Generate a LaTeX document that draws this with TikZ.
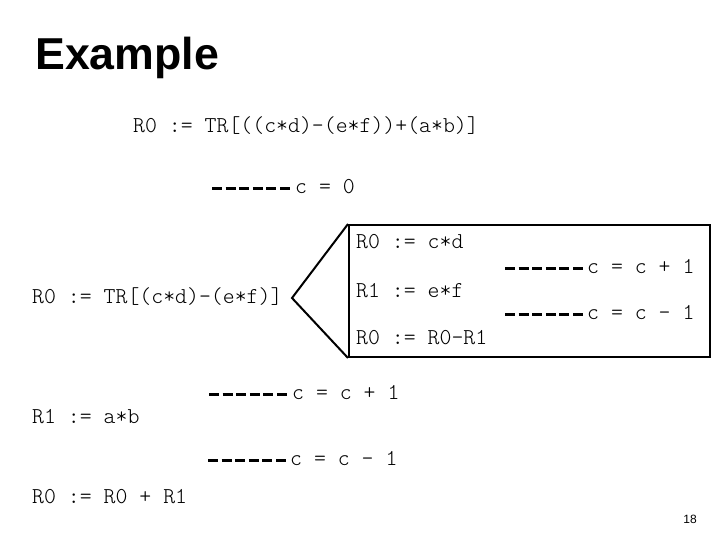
\documentclass[tikz,border=0pt]{standalone}
\usepackage{fontspec}
\newfontfamily\slidefont{Liberation Sans}
\newfontfamily\codefont{Latin Modern Mono Light}
\usetikzlibrary{positioning}

\tikzset{
	code/.style={anchor=base west, inner sep=0pt,
			font=\codefont\fontsize{22.7}{26}\selectfont},
	dashrule/.style={line width=3pt, dash pattern=on 10pt off 3.6pt},
	frame/.style={line width=2pt}
}

\begin{document}
\begin{tikzpicture}[x=1pt, y=-1pt]
	\useasboundingbox (0,0) rectangle (720,540);
	\node[anchor=base west, inner sep=0pt, font=\slidefont\bfseries\fontsize{44.7}{50}\selectfont] (title) at (35,70) {Example};

	\node[code] (whole) at (133,133) {R0 := TR[((c*d)-(e*f))+(a*b)]};
	\coordinate (d0) at (212,189);
	\draw[dashrule] (d0) -- ++(78,0);
	\node[code] (c0) at (295,194) {c = 0};

	% left branch
	\node[code] (sub) at (32,303) {R0 := TR[(c*d)-(e*f)]};
	\node[draw, frame, minimum width=361pt, minimum height=132pt, inner sep=0pt] (blk) at (529.5,291) {};
	\coordinate (tip) at (292,298);
	\draw[frame] (blk.north west) -- (tip) -- (blk.south west);

	\node[code] (r0a) at (356,248) {R0 := c*d};
	\node[code] (r1a) at (356,297) {R1 := e*f};
	\node[code] (r0b) at (356,344) {R0 := R0-R1};
	\coordinate (d1) at (505,268);
	\coordinate (d2) at (505,314);
	\draw[dashrule] (d1) -- ++(78,0);
	\draw[dashrule] (d2) -- ++(78,0);
	\node[code] (inc1) at (587,273) {c = c + 1};
	\node[code] (dec1) at (587,319) {c = c - 1};

	% right branch
	\coordinate (d3) at (209,394);
	\coordinate (d4) at (208,460);
	\draw[dashrule] (d3) -- ++(78,0);
	\draw[dashrule] (d4) -- ++(78,0);
	\node[code] (inc2) at (292,399) {c = c + 1};
	\node[code] (dec2) at (290,465) {c = c - 1};
	\node[code] (r1c) at (32,423) {R1 := a*b};
	\node[code] (sum) at (32,503) {R0 := R0 + R1};

	\node[anchor=base east, inner sep=0pt, font=\slidefont\fontsize{12}{14}\selectfont] (pg) at (697,523) {18};
\end{tikzpicture}
\end{document}
